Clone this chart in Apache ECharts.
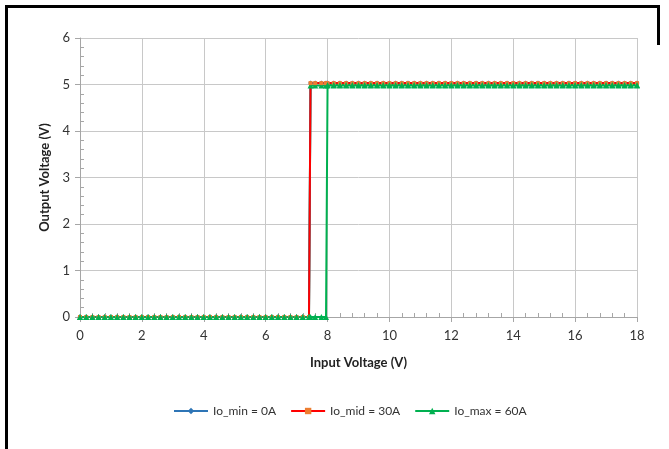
<!DOCTYPE html>
<html><head><meta charset="utf-8">
<script src="https://cdn.jsdelivr.net/npm/echarts@6/dist/echarts.min.js"></script>
<style>html,body{margin:0;padding:0;background:#fff}#c{width:669px;height:449px}</style>
</head><body><div id="c"></div>
<script>
// Input voltage sweep points (V)
var vin = [
  0,0.2,0.4,0.6,0.8,1,1.2,1.4,1.6,1.8,
  2,2.2,2.4,2.6,2.8,3,3.2,3.4,3.6,3.8,
  4,4.2,4.4,4.6,4.8,5,5.2,5.4,5.6,5.8,
  6,6.2,6.4,6.6,6.8,7,7.2,7.4,
  7.45,7.6,7.8,7.95,8,
  8.2,8.4,8.6,8.8,9,9.2,9.4,9.6,9.8,10,
  10.2,10.4,10.6,10.8,11,11.2,11.4,11.6,11.8,12,
  12.2,12.4,12.6,12.8,13,13.2,13.4,13.6,13.8,14,
  14.2,14.4,14.6,14.8,15,15.2,15.4,15.6,15.8,16,
  16.2,16.4,16.6,16.8,17,17.2,17.4,17.6,17.8,18
];
// Io_min = 0A output (V)
var voutMin = [
  0,0,0,0,0,0,0,0,0,0,
  0,0,0,0,0,0,0,0,0,0,
  0,0,0,0,0,0,0,0,0,0,
  0,0,0,0,0,0,0,0,
  5.03,5.03,5.03,5.03,5.03,
  5.03,5.03,5.03,5.03,5.03,5.03,5.03,5.03,5.03,5.03,
  5.03,5.03,5.03,5.03,5.03,5.03,5.03,5.03,5.03,5.03,
  5.03,5.03,5.03,5.03,5.03,5.03,5.03,5.03,5.03,5.03,
  5.03,5.03,5.03,5.03,5.03,5.03,5.03,5.03,5.03,5.03,
  5.03,5.03,5.03,5.03,5.03,5.03,5.03,5.03,5.03,5.03
];
// Io_mid = 30A output (V)
var voutMid = [
  0,0,0,0,0,0,0,0,0,0,
  0,0,0,0,0,0,0,0,0,0,
  0,0,0,0,0,0,0,0,0,0,
  0,0,0,0,0,0,0,0,
  5.03,5.03,5.03,5.03,5.03,
  5.03,5.03,5.03,5.03,5.03,5.03,5.03,5.03,5.03,5.03,
  5.03,5.03,5.03,5.03,5.03,5.03,5.03,5.03,5.03,5.03,
  5.03,5.03,5.03,5.03,5.03,5.03,5.03,5.03,5.03,5.03,
  5.03,5.03,5.03,5.03,5.03,5.03,5.03,5.03,5.03,5.03,
  5.03,5.03,5.03,5.03,5.03,5.03,5.03,5.03,5.03,5.03
];
// Io_max = 60A output, rising sweep (V)
var voutMaxUp = [
  0,0,0,0,0,0,0,0,0,0,
  0,0,0,0,0,0,0,0,0,0,
  0,0,0,0,0,0,0,0,0,0,
  0,0,0,0,0,0,0,0,
  0,0,0,0,4.99,
  4.99,4.99,4.99,4.99,4.99,4.99,4.99,4.99,4.99,4.99,
  4.99,4.99,4.99,4.99,4.99,4.99,4.99,4.99,4.99,4.99,
  4.99,4.99,4.99,4.99,4.99,4.99,4.99,4.99,4.99,4.99,
  4.99,4.99,4.99,4.99,4.99,4.99,4.99,4.99,4.99,4.99,
  4.99,4.99,4.99,4.99,4.99,4.99,4.99,4.99,4.99,4.99
];
// Io_max = 60A output, falling sweep (V), same vin points
var voutMaxDown = [
  0,0,0,0,0,0,0,0,0,0,
  0,0,0,0,0,0,0,0,0,0,
  0,0,0,0,0,0,0,0,0,0,
  0,0,0,0,0,0,0,0,
  4.98,4.98,4.98,4.98,4.98,
  4.98,4.98,4.98,4.98,4.98,4.98,4.98,4.98,4.98,4.98,
  4.98,4.98,4.98,4.98,4.98,4.98,4.98,4.98,4.98,4.98,
  4.98,4.98,4.98,4.98,4.98,4.98,4.98,4.98,4.98,4.98,
  4.98,4.98,4.98,4.98,4.98,4.98,4.98,4.98,4.98,4.98,
  4.98,4.98,4.98,4.98,4.98,4.98,4.98,4.98,4.98,4.98
];
var seriesNames = ['Io_min = 0A','Io_mid = 30A','Io_max = 60A'];

function pairs(xs, ys){ return xs.map(function(x,i){ return [x, ys[i]]; }); }

var FONT = 'Lato';
var chart = echarts.init(document.getElementById('c'), null, {renderer:'canvas'});
var axisGray = '#a6a6a6', gridGray = '#c8c8c8';
var GREEN = '#00b050';
chart.setOption({
  animation:false,
  textStyle:{fontFamily:FONT},
  grid:{left:80, right:32, top:38, bottom:132},
  legend:{
    left:168, top:400, itemWidth:34, itemHeight:8, itemGap:14,
    textStyle:{fontFamily:FONT, fontSize:12, color:'#333'},
    data:seriesNames
  },
  xAxis:[{
    type:'value', min:0, max:18, interval:2,
    name:'Input Voltage (V)', nameLocation:'middle', nameGap:39,
    nameTextStyle:{fontFamily:FONT, fontWeight:'bold', fontSize:13, color:'#222'},
    axisLine:{lineStyle:{color:axisGray}},
    axisTick:{show:true, length:5, lineStyle:{color:axisGray}},
    axisLabel:{fontFamily:FONT, fontSize:13, color:'#333', margin:12},
    splitLine:{show:true, lineStyle:{color:gridGray}}
  },{
    type:'value', min:0, max:18, interval:2, position:'bottom',
    axisLine:{show:false}, axisLabel:{show:false}, splitLine:{show:false},
    axisTick:{show:false, inside:true},
    minorTick:{show:true, splitNumber:5, length:4, lineStyle:{color:axisGray}}
  }],
  yAxis:[{
    type:'value', min:0, max:6, interval:1,
    name:'Output Voltage (V)', nameLocation:'middle', nameGap:25,
    nameTextStyle:{fontFamily:FONT, fontWeight:'bold', fontSize:13, color:'#222'},
    axisLine:{show:true, lineStyle:{color:axisGray}},
    axisTick:{show:true, length:5, lineStyle:{color:axisGray}},
    axisLabel:{fontFamily:FONT, fontSize:13, color:'#333', margin:10},
    splitLine:{show:true, lineStyle:{color:gridGray}}
  },{
    type:'value', min:0, max:6, interval:1, position:'left',
    axisLine:{show:false}, axisLabel:{show:false}, splitLine:{show:false},
    axisTick:{show:false, inside:true},
    minorTick:{show:true, splitNumber:5, length:4, lineStyle:{color:axisGray}}
  }],
  graphic:[
    {type:'rect', shape:{x:5, y:5, width:3, height:444}, style:{fill:'#000'}},
    {type:'rect', shape:{x:5, y:5, width:655, height:3}, style:{fill:'#000'}},
    {type:'rect', shape:{x:657, y:5, width:3, height:40}, style:{fill:'#000'}}
  ],
  series:[
    {name:seriesNames[2], type:'line', data:pairs(vin, voutMaxDown).reverse(),
     symbol:'triangle', symbolSize:6, showSymbol:true,
     lineStyle:{color:GREEN, width:2}, itemStyle:{color:GREEN}},
    {name:seriesNames[0], type:'line', data:pairs(vin, voutMin),
     symbol:'diamond', symbolSize:5, showSymbol:true,
     lineStyle:{color:'#2e75b6', width:2}, itemStyle:{color:'#2e75b6'}},
    {name:seriesNames[1], type:'line', data:pairs(vin, voutMid),
     symbol:'rect', symbolSize:4, showSymbol:true,
     lineStyle:{color:'#ff0000', width:2}, itemStyle:{color:'#ed7d31'}},
    {name:seriesNames[2], type:'line', data:pairs(vin, voutMaxUp),
     symbol:'triangle', symbolSize:6, showSymbol:true,
     lineStyle:{color:GREEN, width:2}, itemStyle:{color:GREEN}}
  ]
});
</script></body></html>
